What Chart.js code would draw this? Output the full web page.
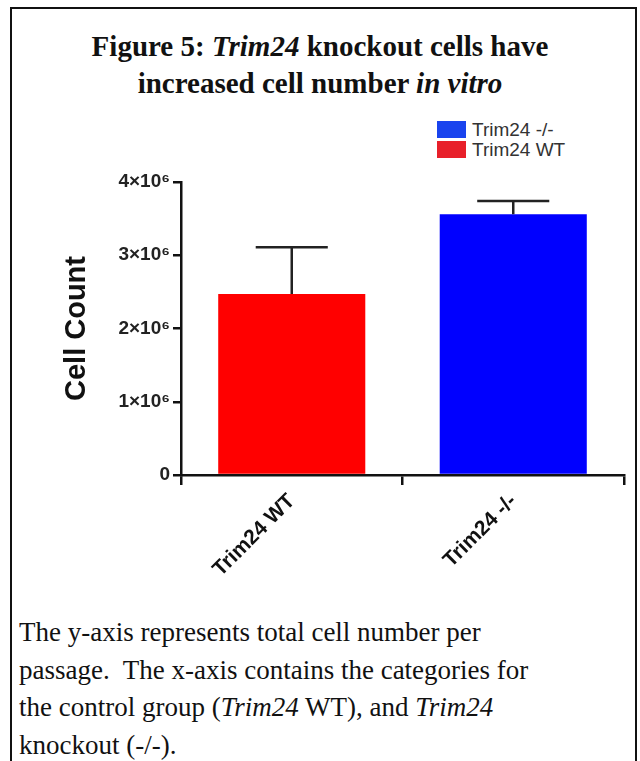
<!DOCTYPE html>
<html lang="en">

<head>
    <meta charset="UTF-8">
    <title>Trim24 knockout cell number</title>
    <script src="https://cdn.jsdelivr.net/npm/chart.js"></script>
    <style>
        body,
        html {
            margin: 0;
            padding: 0;
            background-color: #fff;
            overflow: hidden;
        }

        .frame {
            position: absolute;
            left: 10px;
            top: 7px;
            width: 623px;
            height: 800px;
            border: 2px solid #111;
            border-bottom: none;
        }

        .title {
            position: absolute;
            left: 0;
            top: 28px;
            width: 640px;
            text-align: center;
            font-family: "Liberation Serif", "Times New Roman", serif;
            font-weight: bold;
            font-size: 29px;
            line-height: 37px;
            color: #111;
        }

        .legend {
            position: absolute;
            left: 437px;
            top: 120px;
            font-family: "Liberation Sans", Arial, sans-serif;
            font-size: 19px;
            color: #333;
        }

        .legend div {
            height: 19.5px;
            line-height: 19.5px;
            display: flex;
            align-items: center;
        }

        .legend span.box {
            display: inline-block;
            width: 29px;
            height: 17px;
            margin-right: 6px;
        }

        .chartBox {
            position: absolute;
            left: 0;
            top: 165px;
            width: 640px;
            height: 440px;
        }

        .caption {
            position: absolute;
            left: 19px;
            top: 614px;
            width: 610px;
            white-space: nowrap;
            font-family: "Liberation Serif", "Times New Roman", serif;
            font-size: 27px;
            line-height: 37.5px;
            color: #111;
        }
    </style>
</head>

<body>
    <div class="frame"></div>
    <div class="title">Figure 5: <i>Trim24</i> knockout cells have<br>increased cell number <i>in vitro</i></div>
    <div class="legend" id="legend"></div>
    <div class="chartBox"><canvas id="cellChart"></canvas></div>
    <div class="caption">The y-axis represents total cell number per<br>passage.&nbsp; The x-axis contains the categories for<br>the control group (<i>Trim24</i> WT), and <i>Trim24</i><br>knockout (-/-).</div>

    <script>
        const groups = ['Trim24 WT', 'Trim24 -/-'];
        const cellCounts = [2470000, 3560000];
        const errors = [640000, 180000];
        const barColors = ['#ff0000', '#0000ff'];

        const legendLabels = ['Trim24 -/-', 'Trim24 WT'];
        const legendColors = ['#1a44ee', '#e8202a'];

        const yTicks = [0, 1000000, 2000000, 3000000, 4000000];
        const yTickLabels = ['0', '1×10⁶', '2×10⁶', '3×10⁶', '4×10⁶'];

        // legend as plain html
        const legendEl = document.getElementById('legend');
        legendLabels.forEach((lbl, i) => {
            const row = document.createElement('div');
            row.innerHTML = `<span class="box" style="background:${legendColors[i]}"></span>${lbl}`;
            legendEl.appendChild(row);
        });

        // draws the upper error bar with a cap
        const errorBars = {
            id: 'errorBars',
            afterDatasetsDraw(chart) {
                const ctx = chart.ctx;
                const yScale = chart.scales.y;
                const meta = chart.getDatasetMeta(0);
                ctx.save();
                ctx.strokeStyle = '#222';
                ctx.lineWidth = 2.5;
                meta.data.forEach((bar, i) => {
                    const top = yScale.getPixelForValue(cellCounts[i] + errors[i]);
                    const half = bar.width * 0.245;
                    ctx.beginPath();
                    ctx.moveTo(bar.x, bar.y);
                    ctx.lineTo(bar.x, top);
                    ctx.moveTo(bar.x - half, top);
                    ctx.lineTo(bar.x + half, top);
                    ctx.stroke();
                });
                ctx.restore();
            }
        };

        new Chart(document.getElementById('cellChart'), {
            type: 'bar',
            data: {
                labels: groups,
                datasets: [{
                    data: cellCounts,
                    backgroundColor: barColors,
                    borderWidth: 0,
                    categoryPercentage: 1,
                    barPercentage: 0.664
                }]
            },
            options: {
                responsive: true,
                maintainAspectRatio: false,
                animation: false,
                layout: {
                    padding: { top: 17, right: 16, left: 60, bottom: 0 }
                },
                plugins: {
                    legend: { display: false },
                    tooltip: { enabled: false }
                },
                scales: {
                    x: {
                        offset: true,
                        afterFit(scale) { scale.height = 130; },
                        border: { color: '#111', width: 2.5 },
                        grid: {
                            drawOnChartArea: false,
                            tickLength: 10,
                            color: '#111',
                            lineWidth: 2.5
                        },
                        ticks: {
                            minRotation: 45,
                            maxRotation: 45,
                            color: '#111',
                            padding: 4,
                            font: { family: 'Liberation Sans, Arial', size: 21, weight: 'bold' }
                        }
                    },
                    y: {
                        min: 0,
                        max: 4000000,
                        afterFit(scale) { scale.width = 121; },
                        afterBuildTicks(scale) {
                            scale.ticks = yTicks.map(v => ({ value: v }));
                        },
                        border: { color: '#111', width: 2.5 },
                        grid: {
                            drawOnChartArea: false,
                            tickLength: 8,
                            color: '#111',
                            lineWidth: 2.5
                        },
                        ticks: {
                            color: '#222',
                            padding: 3,
                            font: { family: 'Liberation Sans, Arial', size: 19, weight: 'bold' },
                            callback: (v) => yTickLabels[yTicks.indexOf(v)]
                        },
                        title: {
                            display: true,
                            text: 'Cell Count',
                            color: '#111',
                            padding: 0,
                            font: { family: 'Liberation Sans, Arial', size: 29, weight: 'bold' }
                        }
                    }
                }
            },
            plugins: [errorBars]
        });
    </script>
</body>

</html>
